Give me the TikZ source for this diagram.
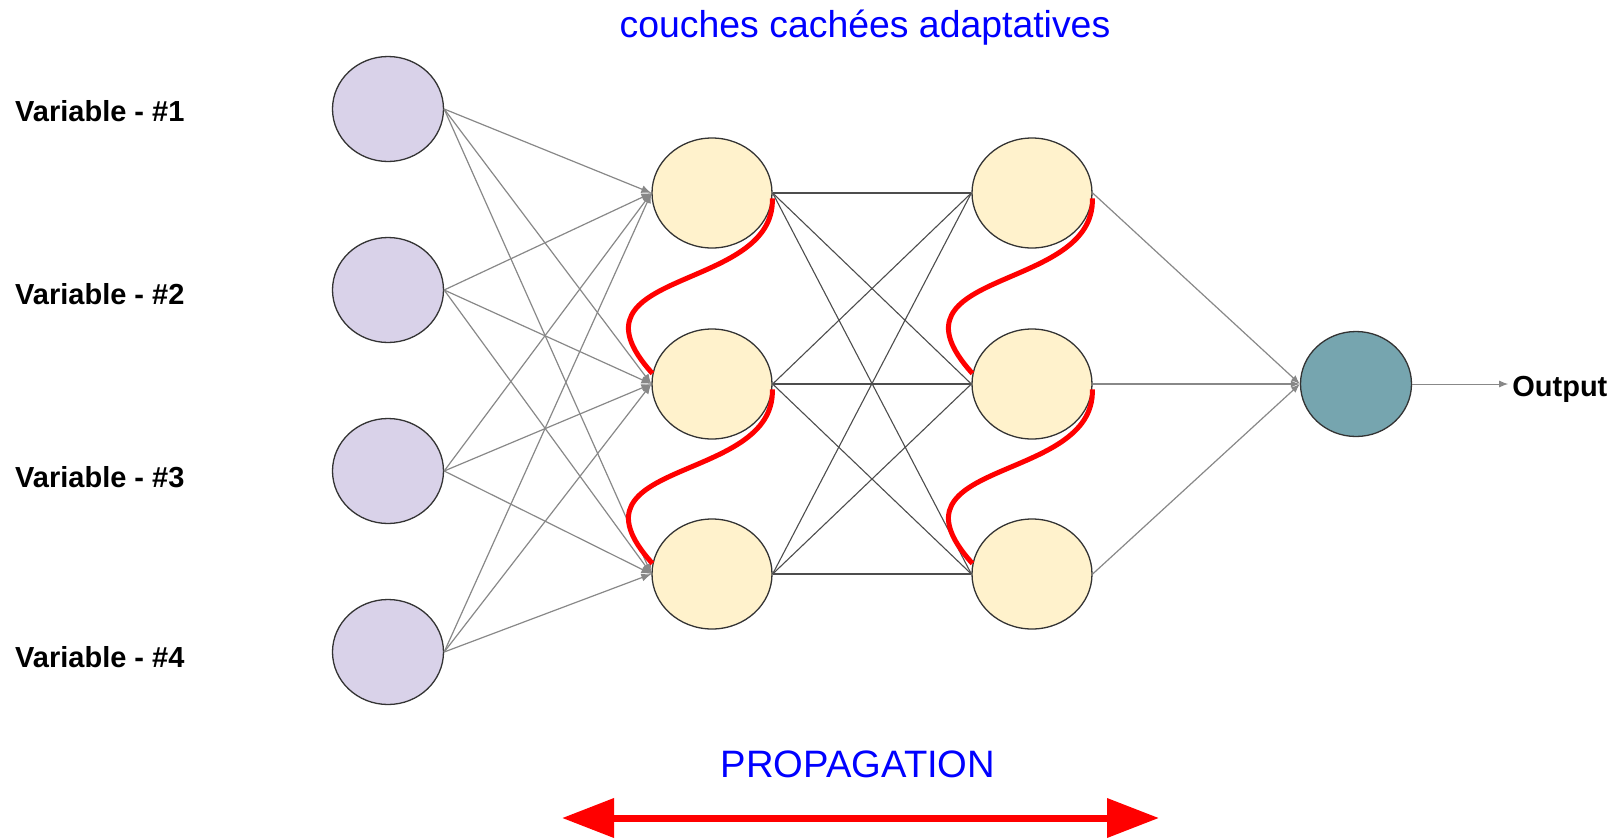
\documentclass[tikz,border=0pt]{standalone}
\usepackage{fontspec}
\setmainfont{Liberation Sans}
\usetikzlibrary{shapes.geometric, arrows.meta, positioning}
\definecolor{inputfill}{HTML}{D9D2E9}
\definecolor{hiddenfill}{HTML}{FFF2CC}
\definecolor{outputfill}{HTML}{76A5AF}
\definecolor{edgegray}{HTML}{888888}
\definecolor{edgedark}{HTML}{4D4D4D}
\definecolor{labelblue}{HTML}{0000FF}
\definecolor{wavered}{HTML}{FF0000}
\tikzset{
    net/.style={x=1pt, y=-1pt},
    neuron/.style={ellipse, draw=black!80, line width=1.3pt, inner sep=0pt},
    input neuron/.style={neuron, fill=inputfill, minimum width=111pt, minimum height=105pt},
    hidden neuron/.style={neuron, fill=hiddenfill, minimum width=120pt, minimum height=110pt},
    output neuron/.style={neuron, fill=outputfill, minimum width=111pt, minimum height=105pt},
    var label/.style={font=\fontsize{29}{34}\selectfont\bfseries, inner sep=0pt},
    blue label/.style={text=labelblue, inner sep=0pt, anchor=base},
    in edge/.style={-{Latex[length=10pt,width=8pt]}, edgegray, line width=1.2pt},
    mid edge/.style={edgedark, line width=1.1pt},
    out edge/.style={-{Latex[length=9pt,width=7pt]}, edgegray, line width=1.2pt},
    wave/.style={wavered, line width=5pt},
    propagation arrow/.style={{Triangle[length=52pt,width=38pt]}-{Triangle[length=52pt,width=38pt]},
        wavered, line width=7pt},
}
\begin{document}
\begin{tikzpicture}[net]
  \useasboundingbox (0,0) rectangle (1618,839);
  \node[blue label, font=\fontsize{37.4}{44}\selectfont] (title) at (865,37) {couches cachées adaptatives};
  \foreach \i/\y in {1/109, 2/290, 3/471, 4/652}
    \node[input neuron] (in\i) at (388,\y) {};
  \foreach \j/\y in {1/193, 2/384, 3/574} {
    \node[hidden neuron] (ha\j) at (712,\y) {};
    \node[hidden neuron] (hb\j) at (1032,\y) {};
  }
  \node[output neuron] (out) at (1356,384) {};
  \foreach \i/\y in {1/111, 2/294, 3/477, 4/657}
    \node[var label, anchor=west] (var\i) at (15,\y) {Variable - \#\i};
  \node[var label, inner sep=4pt, right=96pt of out, yshift=-5pt] (outlabel) {Output};
  \foreach \i in {1,...,4}
    \foreach \j in {1,2,3}
      \draw[in edge] (in\i.east) -- (ha\j.west);
  \foreach \i in {1,2,3}
    \foreach \j in {1,2,3}
      \draw[mid edge] (ha\i.east) -- (hb\j.west);
  \foreach \j in {1,2,3}
    \draw[out edge] (hb\j.east) -- (out.west);
  \draw[out edge, line width=1pt] (out.east) -- (outlabel.west |- out.east);
  \foreach \c in {ha, hb}
    \foreach \a/\b in {1/2, 2/3}
      \draw[wave] (\c\a.-5) .. controls +(3,95) and +(-95,-105) .. (\c\b.170);
  \node[blue label, font=\fontsize{38.2}{45}\selectfont] (propagation) at (858,777) {PROPAGATION};
  \coordinate (propleft) at (562,818);
  \coordinate (propright) at (1159,818);
  \draw[propagation arrow] (propleft) -- (propright);
\end{tikzpicture}
\end{document}
